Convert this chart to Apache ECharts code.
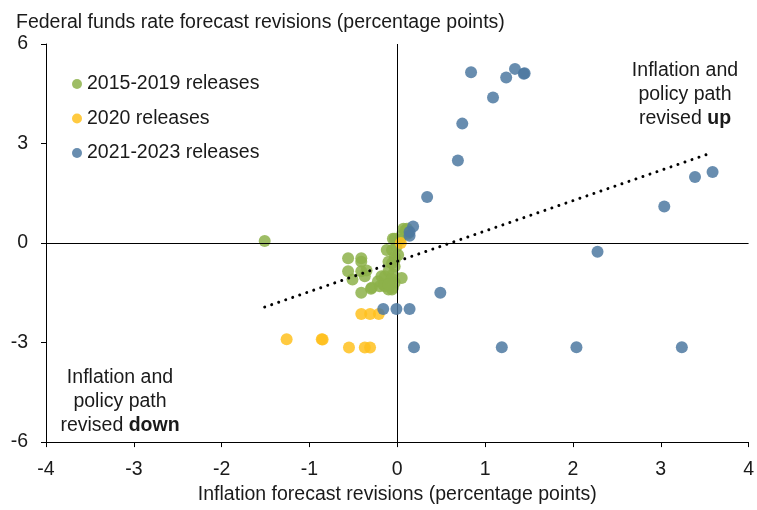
<!DOCTYPE html>
<html>
<head>
<meta charset="utf-8">
<script src="https://cdn.jsdelivr.net/npm/echarts@6/dist/echarts.min.js"></script>
<style>
html,body{margin:0;padding:0;background:#fff;}
#chart{width:757px;height:510px;}
</style>
</head>
<body>
<div id="chart"></div>
<script>
var FONT = '"Liberation Sans", Arial, sans-serif';
var titleText = 'Federal funds rate forecast revisions (percentage points)';
var xAxisTitle = 'Inflation forecast revisions (percentage points)';
var seriesNames = ['2015-2019 releases', '2020 releases', '2021-2023 releases'];

var greenX = [-1.51,-0.56,-0.41,-0.41,-0.56,-0.41,-0.35,-0.51,-0.37,-0.41,-0.30,-0.22,-0.18,-0.14,-0.10,-0.06,-0.12,-0.06,-0.03,-0.01,-0.03,-0.06,-0.03,-0.10,-0.05,-0.14,-0.08,-0.03,0.05,0.01,0.09,0.11,0.12,0.05,0.03,-0.16,-0.20,-0.05,-0.03,-0.10,-0.06,-0.10,0.07,-0.29,-0.05];
var greenY = [0.06,-0.46,-0.46,-0.56,-0.85,-0.85,-0.83,-1.10,-1.00,-1.50,-1.38,-1.15,-1.00,-1.30,-1.40,-1.40,-0.21,-0.21,0.13,-0.11,-0.41,-0.61,-0.71,-0.85,-0.95,-1.00,-1.15,-1.20,-1.05,-0.36,0.38,0.43,0.28,0.23,0.09,-1.25,-1.30,-1.35,-0.51,-0.56,-1.08,-1.25,0.43,-1.35,0.13];

var yellowX = [0.04,-0.41,-0.31,-0.21,-1.26,-0.86,-0.85,-0.55,-0.37,-0.31];
var yellowY = [0.00,-2.14,-2.14,-2.14,-2.90,-2.90,-2.91,-3.15,-3.15,-3.15];

var blueX = [0.84,1.24,1.34,1.44,1.45,1.09,0.74,0.69,0.34,0.18,0.14,0.14,3.39,3.59,3.04,2.28,0.49,-0.16,-0.01,0.14,0.19,1.19,2.04,3.24];
var blueY = [5.15,4.99,5.25,5.10,5.12,4.39,3.60,2.49,1.39,0.50,0.33,0.22,1.99,2.14,1.10,-0.26,-1.50,-1.99,-1.99,-1.99,-3.14,-3.14,-3.14,-3.14];

var trendX = [-1.51, 3.59];
var trendY = [-1.93, 2.73];

var xTicks = [-4,-3,-2,-1,0,1,2,3,4];
var yTicks = [-6,-3,0,3,6];

function pairs(xs, ys){ return xs.map(function(v,i){ return [v, ys[i]]; }); }

var colors = ['#8DB24A', '#FFC11E', '#4E79A1'];
var FS = 19.5;

var chart = echarts.init(document.getElementById('chart'), null, {renderer:'canvas'});
var scatterBase = function(name, data, color, z){
  return {
    name: name, type: 'scatter', data: data, symbol: 'circle', symbolSize: 12,
    itemStyle: {color: color, opacity: 0.85}, z: z, animation: false, silent: true
  };
};
chart.setOption({
  animation: false,
  textStyle: {fontFamily: FONT},
  title: {
    text: titleText, left: 11, top: 8,
    textStyle: {fontFamily: FONT, fontSize: FS, fontWeight: 'normal', color: '#1a1a1a'}
  },
  legend: {
    data: seriesNames.map(function(n){ return {name: n, icon: 'circle'}; }),
    orient: 'vertical', left: 67, top: 69, itemWidth: 10, itemHeight: 10, itemGap: 14.5,
    textStyle: {fontFamily: FONT, fontSize: FS, color: '#1a1a1a'},
    selectedMode: false
  },
  grid: {left: 46, right: 6, top: 44, bottom: 62, containLabel: false},
  xAxis: {
    type: 'value', min: xTicks[0], max: xTicks[xTicks.length-1], interval: 1,
    name: xAxisTitle, nameLocation: 'middle', nameGap: 39,
    nameTextStyle: {fontFamily: FONT, fontSize: FS, color: '#1a1a1a'},
    axisLine: {show: true, onZero: false, lineStyle: {color: '#000', width: 1}},
    axisTick: {show: true, inside: false, length: 5, lineStyle: {color: '#000'}},
    axisLabel: {fontFamily: FONT, fontSize: FS, color: '#1a1a1a', margin: 18},
    splitLine: {show: false}
  },
  yAxis: {
    type: 'value', min: yTicks[0], max: yTicks[yTicks.length-1], interval: 3,
    axisLine: {show: true, onZero: false, lineStyle: {color: '#000', width: 1}},
    axisTick: {show: true, inside: false, length: 5, lineStyle: {color: '#000'}},
    axisLabel: {fontFamily: FONT, fontSize: FS, color: '#1a1a1a', margin: 18},
    splitLine: {show: false}
  },
  series: [
    {
      name: 'zero', type: 'line', data: [], z: 1, silent: true,
      markLine: {
        silent: true, symbol: 'none', animation: false,
        label: {show: false},
        lineStyle: {color: '#000', width: 1, type: 'solid'},
        data: [{xAxis: 0}, {yAxis: 0}]
      }
    },
    scatterBase(seriesNames[0], pairs(greenX, greenY), colors[0], 3),
    scatterBase(seriesNames[1], pairs(yellowX, yellowY), colors[1], 4),
    scatterBase(seriesNames[2], pairs(blueX, blueY), colors[2], 5),
    {
      name: 'trend', type: 'line', data: pairs(trendX, trendY), symbol: 'none', z: 6, silent: true,
      lineStyle: {color: '#000', width: 3, type: [0.01, 7.4], cap: 'round'}
    }
  ],
  graphic: [
    {
      type: 'text', x: 685, y: 59, silent: true,
      style: {
        text: '{n|Inflation and}\n{n|policy path}\n{n|revised }{b|up}',
        textAlign: 'center', textVerticalAlign: 'top',
        rich: {
          n: {fontFamily: FONT, fontSize: FS, lineHeight: 24, fill: '#1a1a1a'},
          b: {fontFamily: FONT, fontSize: FS, lineHeight: 24, fontWeight: 'bold', fill: '#1a1a1a'}
        }
      }
    },
    {
      type: 'text', x: 120, y: 366, silent: true,
      style: {
        text: '{n|Inflation and}\n{n|policy path}\n{n|revised }{b|down}',
        textAlign: 'center', textVerticalAlign: 'top',
        rich: {
          n: {fontFamily: FONT, fontSize: FS, lineHeight: 24, fill: '#1a1a1a'},
          b: {fontFamily: FONT, fontSize: FS, lineHeight: 24, fontWeight: 'bold', fill: '#1a1a1a'}
        }
      }
    }
  ]
});
</script>
</body>
</html>
